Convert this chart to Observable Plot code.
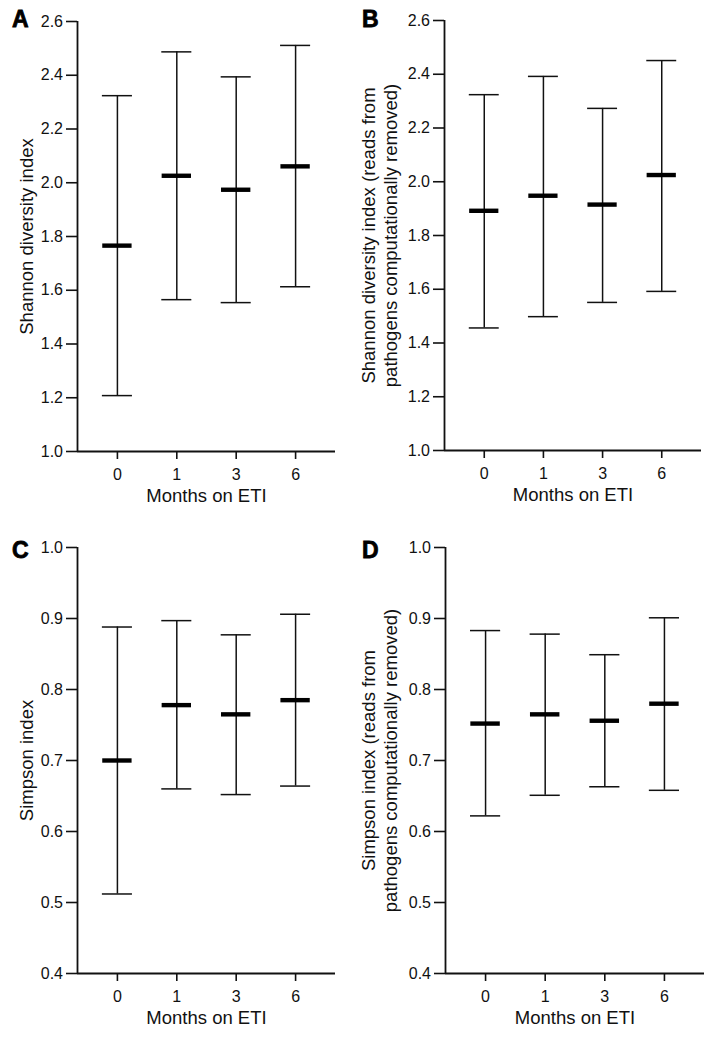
<!DOCTYPE html>
<html>
<head>
<meta charset="utf-8">
<script src="https://cdn.jsdelivr.net/npm/d3@7"></script>
<script src="https://cdn.jsdelivr.net/npm/@observablehq/plot@0.6"></script>
<style>
  body { margin: 0; background: #fff; }
  #fig { position: relative; width: 712px; height: 1049px; font-family: "Liberation Sans", Arial, sans-serif; background: #fff; }
  .panel { position: absolute; }
  .letter { position: absolute; font-family: "Liberation Sans", Arial, sans-serif; font-weight: bold; font-size: 23px; line-height: 1; color: #000; -webkit-text-stroke: 0.8px #000; }
</style>
</head>
<body>
<div id="fig"></div>
<script>
// Categories
const months = ["0", "1", "3", "6"];

// Panel A: Shannon diversity index (mean, lower, upper)
const shannonMean = [1.766, 2.026, 1.974, 2.061];
const shannonLow  = [1.208, 1.565, 1.554, 1.613];
const shannonHigh = [2.324, 2.487, 2.394, 2.511];

// Panel B: Shannon, pathogen reads removed
const shannonFiltMean = [1.892, 1.948, 1.915, 2.025];
const shannonFiltLow  = [1.456, 1.498, 1.551, 1.592];
const shannonFiltHigh = [2.324, 2.392, 2.273, 2.451];

// Panel C: Simpson index
const simpsonMean = [0.700, 0.778, 0.765, 0.785];
const simpsonLow  = [0.512, 0.660, 0.652, 0.664];
const simpsonHigh = [0.888, 0.897, 0.877, 0.906];

// Panel D: Simpson, pathogen reads removed
const simpsonFiltMean = [0.752, 0.765, 0.756, 0.780];
const simpsonFiltLow  = [0.622, 0.651, 0.663, 0.658];
const simpsonFiltHigh = [0.883, 0.878, 0.849, 0.901];

// Tick labels
const shannonTicks = [1.0, 1.2, 1.4, 1.6, 1.8, 2.0, 2.2, 2.4, 2.6];
const simpsonTicks = [0.4, 0.5, 0.6, 0.7, 0.8, 0.9, 1.0];

const xTitle = "Months on ETI";

const ink = "#111";
const fig = document.getElementById("fig");

function panel(cfg) {
  const data = months.map((m, i) => ({i, m, mean: cfg.mean[i], lo: cfg.low[i], hi: cfg.high[i]}));
  const pad = 0.672;
  const xDomain = [-pad, months.length - 1 + pad];
  const capHalf = 0.253;
  const barHalf = 0.247;
  const chart = Plot.plot({
    width: cfg.width,
    height: cfg.height,
    marginLeft: cfg.mL,
    marginRight: cfg.mR,
    marginTop: cfg.mT,
    marginBottom: cfg.mB,
    style: {fontFamily: '"Liberation Sans", Arial, sans-serif', fontSize: "16px", color: ink, background: "transparent", overflow: "visible"},
    x: {domain: xDomain, label: null},
    y: {domain: cfg.yDomain, label: null},
    marks: [
      Plot.axisX({ticks: months.map((m, i) => i), tickFormat: i => months[i], tickSize: 8, tickPadding: 9, strokeWidth: 1.6, fontSize: 16, label: null}),
      Plot.axisY({ticks: cfg.yTicks, tickFormat: d3.format(".1f"), tickSize: 11, tickPadding: 3.5, strokeWidth: 1.6, fontSize: 16, label: null}),
      Plot.ruleY([cfg.yDomain[0]], {stroke: ink, strokeWidth: 1.8}),
      Plot.ruleX([xDomain[0]], {stroke: ink, strokeWidth: 1.8}),
      Plot.ruleX(data, {x: "i", y1: "lo", y2: "hi", stroke: ink, strokeWidth: 1.5}),
      Plot.ruleY(data, {y: "hi", x1: d => d.i - capHalf, x2: d => d.i + capHalf, stroke: ink, strokeWidth: 1.5}),
      Plot.ruleY(data, {y: "lo", x1: d => d.i - capHalf, x2: d => d.i + capHalf, stroke: ink, strokeWidth: 1.5}),
      Plot.ruleY(data, {y: "mean", x1: d => d.i - barHalf, x2: d => d.i + barHalf, stroke: "#000", strokeWidth: 4.4}),
      Plot.text([cfg.yLabel], {text: d => d, frameAnchor: "left", rotate: -90, dx: -cfg.labelOffset, fontSize: 18.5, lineHeight: 1.2, lineAnchor: "middle", textAnchor: "middle", fill: ink}),
      Plot.text([xTitle], {text: d => d, frameAnchor: "bottom", dy: 45, fontSize: 18.5, lineAnchor: "middle", textAnchor: "middle", fill: ink})
    ]
  });
  const div = document.createElement("div");
  div.className = "panel";
  div.style.left = cfg.left + "px";
  div.style.top = cfg.top + "px";
  div.appendChild(chart);
  fig.appendChild(div);
  const lt = document.createElement("div");
  lt.className = "letter";
  lt.textContent = cfg.letter;
  lt.style.left = cfg.letterX + "px";
  lt.style.top = cfg.letterY + "px";
  fig.appendChild(lt);
}

panel({letter: "A", letterX: 12, letterY: 8, mean: shannonMean, low: shannonLow, high: shannonHigh,
  yDomain: [1.0, 2.6], yTicks: shannonTicks, yLabel: "Shannon diversity index",
  left: 0, top: 0, width: 356, height: 520, mL: 77, mR: 21, mT: 21, mB: 69, labelOffset: 52});

panel({letter: "B", letterX: 362, letterY: 8, mean: shannonFiltMean, low: shannonFiltLow, high: shannonFiltHigh,
  yDomain: [1.0, 2.6], yTicks: shannonTicks, yLabel: "Shannon diversity index (reads from\npathogens computationally removed)",
  left: 356, top: 0, width: 356, height: 520, mL: 88, mR: 11, mT: 20, mB: 70, labelOffset: 66});

panel({letter: "C", letterX: 12, letterY: 539, mean: simpsonMean, low: simpsonLow, high: simpsonHigh,
  yDomain: [0.4, 1.0], yTicks: simpsonTicks, yLabel: "Simpson index",
  left: 0, top: 520, width: 356, height: 529, mL: 77, mR: 21, mT: 27, mB: 76, labelOffset: 52});

panel({letter: "D", letterX: 362, letterY: 539, mean: simpsonFiltMean, low: simpsonFiltLow, high: simpsonFiltHigh,
  yDomain: [0.4, 1.0], yTicks: simpsonTicks, yLabel: "Simpson index (reads from\npathogens computationally removed)",
  left: 356, top: 520, width: 356, height: 529, mL: 89, mR: 8, mT: 27, mB: 76, labelOffset: 67});
</script>
</body>
</html>
